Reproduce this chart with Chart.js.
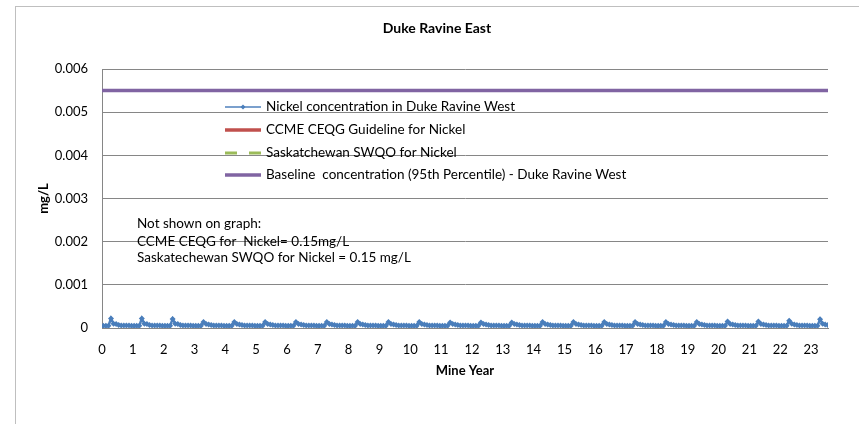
<!DOCTYPE html>
<html>
<head>
<meta charset="utf-8">
<script src="https://cdn.jsdelivr.net/npm/chart.js@4.4.1/dist/chart.umd.min.js"></script>
<style>
html, body { margin: 0; padding: 0; background: #fff; overflow: hidden; }
#frame { position: absolute; left: 15px; top: 6px; width: 900px; height: 500px; border: 1px solid #bfbfbf; }
#myChart { position: absolute; left: 0; top: 0; }
</style>
</head>
<body>
<div id="frame"></div>
<canvas id="myChart" width="859" height="424"></canvas>
<script>
const chartTitle = "Duke Ravine East";
const xTitle = "Mine Year";
const yTitle = "mg/L";

const seriesNames = [
    "Nickel concentration in Duke Ravine West",
    "CCME CEQG Guideline for Nickel",
    "Saskatchewan SWQO for Nickel",
    "Baseline  concentration (95th Percentile) - Duke Ravine West"
];

const notes = [
    "Not shown on graph:",
    "CCME CEQG for  Nickel= 0.15mg/L",
    "Saskatechewan SWQO for Nickel = 0.15 mg/L"
];

// monthly nickel concentration (mg/L), one row per mine year
const nickel = [
    0.00005, 0.00005, 0.00005, 0.00022, 0.00010, 0.00009, 0.00007, 0.00006, 0.00006, 0.00006, 0.00006, 0.00005,
    0.00005, 0.00005, 0.00005, 0.00022, 0.00010, 0.00009, 0.00007, 0.00006, 0.00006, 0.00006, 0.00006, 0.00005,
    0.00005, 0.00005, 0.00005, 0.00021, 0.00010, 0.00009, 0.00007, 0.00006, 0.00006, 0.00006, 0.00006, 0.00005,
    0.00005, 0.00005, 0.00005, 0.00014, 0.00009, 0.00008, 0.00007, 0.00006, 0.00006, 0.00006, 0.00006, 0.00005,
    0.00005, 0.00005, 0.00005, 0.00014, 0.00009, 0.00008, 0.00007, 0.00006, 0.00006, 0.00006, 0.00006, 0.00005,
    0.00005, 0.00005, 0.00005, 0.00014, 0.00009, 0.00008, 0.00007, 0.00006, 0.00006, 0.00006, 0.00006, 0.00005,
    0.00005, 0.00005, 0.00005, 0.00014, 0.00009, 0.00008, 0.00007, 0.00006, 0.00006, 0.00006, 0.00006, 0.00005,
    0.00005, 0.00005, 0.00005, 0.00014, 0.00009, 0.00008, 0.00007, 0.00006, 0.00006, 0.00006, 0.00006, 0.00005,
    0.00005, 0.00005, 0.00005, 0.00014, 0.00009, 0.00008, 0.00007, 0.00006, 0.00006, 0.00006, 0.00006, 0.00005,
    0.00005, 0.00005, 0.00005, 0.00014, 0.00009, 0.00008, 0.00007, 0.00006, 0.00006, 0.00006, 0.00006, 0.00005,
    0.00005, 0.00005, 0.00005, 0.00014, 0.00009, 0.00008, 0.00007, 0.00006, 0.00006, 0.00006, 0.00006, 0.00005,
    0.00005, 0.00005, 0.00005, 0.00013, 0.00009, 0.00008, 0.00007, 0.00006, 0.00006, 0.00006, 0.00006, 0.00005,
    0.00005, 0.00005, 0.00005, 0.00013, 0.00009, 0.00008, 0.00007, 0.00006, 0.00006, 0.00006, 0.00006, 0.00005,
    0.00005, 0.00005, 0.00005, 0.00013, 0.00009, 0.00008, 0.00007, 0.00006, 0.00006, 0.00006, 0.00006, 0.00005,
    0.00005, 0.00005, 0.00005, 0.00014, 0.00009, 0.00008, 0.00007, 0.00006, 0.00006, 0.00006, 0.00006, 0.00005,
    0.00005, 0.00005, 0.00005, 0.00014, 0.00009, 0.00008, 0.00007, 0.00006, 0.00006, 0.00006, 0.00006, 0.00005,
    0.00005, 0.00005, 0.00005, 0.00014, 0.00009, 0.00008, 0.00007, 0.00006, 0.00006, 0.00006, 0.00006, 0.00005,
    0.00005, 0.00005, 0.00005, 0.00014, 0.00009, 0.00008, 0.00007, 0.00006, 0.00006, 0.00006, 0.00006, 0.00005,
    0.00005, 0.00005, 0.00005, 0.00014, 0.00009, 0.00008, 0.00007, 0.00006, 0.00006, 0.00006, 0.00006, 0.00005,
    0.00005, 0.00005, 0.00005, 0.00014, 0.00009, 0.00008, 0.00007, 0.00006, 0.00006, 0.00006, 0.00006, 0.00005,
    0.00005, 0.00005, 0.00005, 0.00015, 0.00009, 0.00008, 0.00007, 0.00006, 0.00006, 0.00006, 0.00006, 0.00005,
    0.00005, 0.00005, 0.00005, 0.00015, 0.00009, 0.00008, 0.00007, 0.00006, 0.00006, 0.00006, 0.00006, 0.00005,
    0.00005, 0.00005, 0.00005, 0.00017, 0.00010, 0.00008, 0.00007, 0.00006, 0.00006, 0.00006, 0.00006, 0.00005,
    0.00005, 0.00005, 0.00005, 0.00020, 0.00010, 0.00008, 0.00007
];

const ccmeGuideline = 0.15;
const swqoGuideline = 0.15;
const baselineP95 = 0.0055;

const yearMin = 0;
const yearMax = 23.55;
const yMax = 0.006;
const yStep = 0.001;

const FONT = "Lato, 'Liberation Sans', Arial, sans-serif";

const nickelPoints = nickel.map((v, i) => ({x: (i + 0.5) / 12, y: v}));
const flat = v => [{x: yearMin, y: v}, {x: yearMax, y: v}];

const legendRows = [107, 130, 153, 175];

const overlayPlugin = {
    id: 'overlay',
    afterDraw(chart) {
        const ctx = chart.ctx;
        ctx.save();
        // title
        ctx.fillStyle = '#000';
        ctx.textAlign = 'center';
        ctx.textBaseline = 'middle';
        ctx.font = 'bold 14px ' + FONT;
        ctx.fillText(chartTitle, 437, 28);

        // legend
        ctx.textAlign = 'left';
        ctx.font = '13.5px ' + FONT;
        chart.data.datasets.forEach((ds, i) => {
            const y = legendRows[i];
            ctx.strokeStyle = ds.borderColor;
            ctx.lineWidth = ds.legendWidth || ds.borderWidth;
            ctx.setLineDash(ds.borderDash || []);
            ctx.beginPath();
            ctx.moveTo(225, y);
            ctx.lineTo(261, y);
            ctx.stroke();
            ctx.setLineDash([]);
            if (ds.pointRadius) {
                const r = 2.5;
                ctx.fillStyle = ds.pointBackgroundColor;
                ctx.beginPath();
                ctx.moveTo(243, y - r);
                ctx.lineTo(243 + r, y);
                ctx.lineTo(243, y + r);
                ctx.lineTo(243 - r, y);
                ctx.closePath();
                ctx.fill();
            }
            ctx.fillStyle = '#000';
            ctx.fillText(ds.label, 266, y);
        });

        // notes
        const noteY = [224, 242, 258];
        notes.forEach((t, i) => ctx.fillText(t, 137, noteY[i]));
        ctx.restore();
    }
};

const ctx = document.getElementById('myChart').getContext('2d');
const chart = new Chart(ctx, {
    type: 'line',
    data: {
        datasets: [{
            label: seriesNames[0],
            data: nickelPoints,
            borderColor: '#4F81BD',
            borderWidth: 2.5,
            legendWidth: 1.5,
            pointStyle: 'rectRot',
            pointRadius: 3,
            pointBackgroundColor: '#4A7EBB',
            pointBorderColor: '#4A7EBB',
            pointBorderWidth: 0,
            order: 0
        }, {
            label: seriesNames[1],
            data: flat(ccmeGuideline),
            borderColor: '#C0504D',
            borderWidth: 3.5,
            pointRadius: 0,
            order: 1
        }, {
            label: seriesNames[2],
            data: flat(swqoGuideline),
            borderColor: '#9BBB59',
            borderWidth: 3,
            borderDash: [12, 12],
            pointRadius: 0,
            order: 2
        }, {
            label: seriesNames[3],
            data: flat(baselineP95),
            borderColor: '#8064A2',
            borderWidth: 3.5,
            pointRadius: 0,
            order: 3
        }]
    },
    options: {
        responsive: false,
        animation: false,
        layout: { padding: { top: 69, right: 31, left: 0, bottom: 0 } },
        plugins: {
            legend: { display: false },
            title: { display: false },
            tooltip: { enabled: false }
        },
        scales: {
            x: {
                type: 'linear',
                min: yearMin,
                max: yearMax,
                grid: { display: false, drawTicks: false },
                border: { display: true, color: '#868686', width: 1 },
                ticks: {
                    stepSize: 1,
                    includeBounds: false,
                    padding: 14,
                    color: '#000',
                    font: { family: FONT, size: 13 },
                    maxRotation: 0,
                    autoSkip: false
                },
                title: {
                    display: true,
                    text: xTitle,
                    color: '#000',
                    font: { family: FONT, size: 13, weight: 'bold' },
                    padding: { top: 0, bottom: 45 }
                },
                afterFit(scale) { scale.height = 96; }
            },
            y: {
                min: 0,
                max: yMax,
                grid: { color: '#868686', drawTicks: false },
                border: { display: true, color: '#868686', width: 1 },
                ticks: {
                    stepSize: yStep,
                    padding: 14,
                    color: '#000',
                    font: { family: FONT, size: 13 }
                },
                title: {
                    display: true,
                    text: yTitle,
                    color: '#000',
                    font: { family: FONT, size: 13, weight: 'bold' },
                    padding: { top: 36, bottom: 0 }
                },
                afterFit(scale) { scale.width = 102; }
            }
        }
    },
    plugins: [overlayPlugin]
});
</script>
</body>
</html>
